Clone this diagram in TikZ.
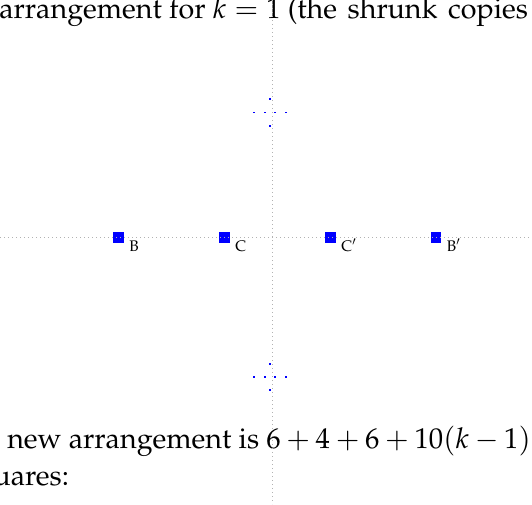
\documentclass[tikz,border=0pt]{standalone}
\usepackage[T1]{fontenc}
\usepackage{mathpazo}
\begin{document}
\begin{tikzpicture}[x=0.75pt,y=-0.75pt,
  guide/.style={draw=gray!60, line width=0.6pt, dash pattern=on 0.6pt off 2.4pt},
  sq/.style={fill=blue, draw=none, minimum size=7.9pt, inner sep=0pt},
  lab/.style={font=\fontsize{11.5}{13}\selectfont, anchor=base west, inner sep=0pt},
  dot/.style={fill=blue, draw=none, minimum size=1.4pt, inner sep=0pt},
  txt/.style={font=\fontsize{21.5}{26}\selectfont, anchor=base west, inner sep=0pt}]
\useasboundingbox (0,0) rectangle (532,504);
\clip (0,0) rectangle (532,504);
% text
\node[txt] (t1) at (-1,18) {arrangement for $k = 1$ (the\hspace{0.12em} shrunk\hspace{0.12em} copies};
\node[txt] (t2) at (7,448) {new arrangement is $6+4+6+10(k-1)$};
\node[txt] (t3) at (-35,485) {squares:};
% squares
\node[sq] (B) at (118.5,237.5) {};
\node[sq] (C) at (224.5,237.5) {};
\node[sq] (Cp) at (330.5,237.5) {};
\node[sq] (Bp) at (436,237.5) {};
\node[lab] (lB) at ([shift={(10.5,13.5)}]B.center) {B};
\node[lab] (lC) at ([shift={(10.5,13.5)}]C.center) {C};
\node[lab] (lCp) at ([shift={(10.5,13.5)}]Cp.center) {C$'$};
\node[lab] (lBp) at ([shift={(10.5,13.5)}]Bp.center) {B$'$};
% small copies
\foreach \cy/\ty/\by/\n in {112.5/99.3/125.7/u, 377/364/390/d}{
  \node[dot] (\n1) at (254,\cy) {};
  \node[dot] (\n2) at (265,\cy) {};
  \node[dot] (\n3) at (275.3,\cy) {};
  \node[dot] (\n4) at (286,\cy) {};
  \node[dot] (\n t) at (270,\ty) {};
  \node[dot] (\n b) at (270,\by) {};
}
% guide lines
\coordinate (vt) at (272,0);
\coordinate (vb) at (272,504);
\coordinate (hl) at (0,237);
\coordinate (hr) at (532,237);
\draw[guide] (vt) -- (vb);
\draw[guide] (hl) -- (hr);
\end{tikzpicture}
\end{document}
